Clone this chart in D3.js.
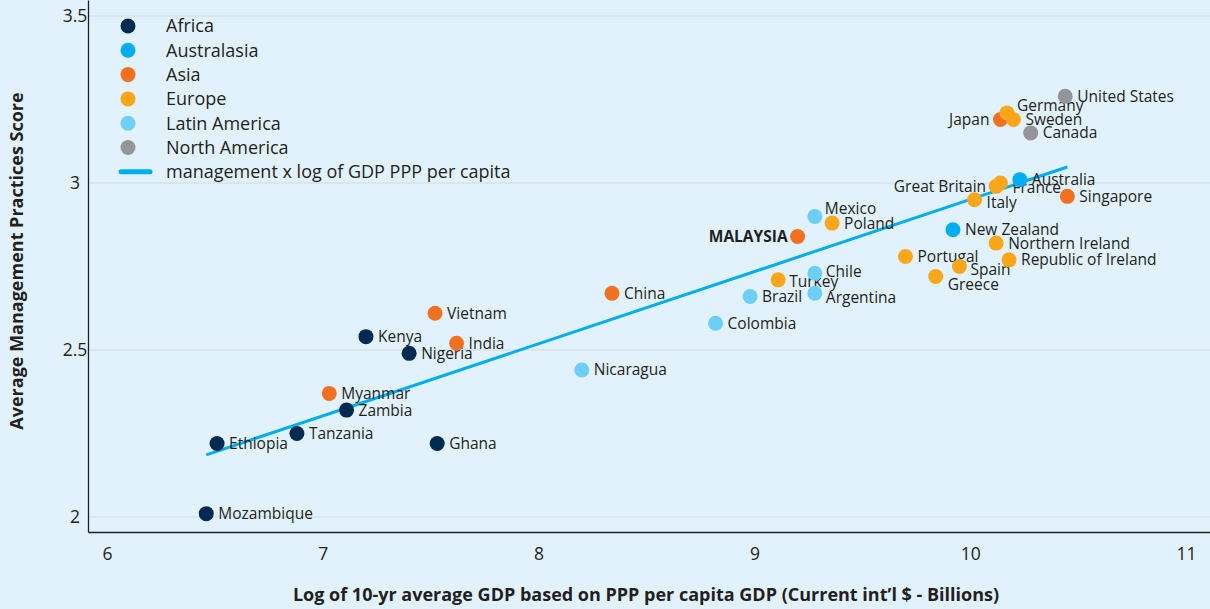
<!DOCTYPE html>
<html>
<head>
<meta charset="utf-8">
<script src="https://cdn.jsdelivr.net/npm/d3@7"></script>
<style>
  html, body { margin: 0; padding: 0; background: #e1f2fc; }
  svg { display: block; font-family: "Open Sans", Lato, sans-serif; }
</style>
</head>
<body>
<svg id="chart" width="1210" height="609"></svg>
<script>
// region categories and their colours
var regionNames = ["Africa", "Australasia", "Asia", "Europe", "Latin America", "North America"];
var regionColors = ["#002a4f", "#00aeef", "#f37021", "#faa61a", "#6dcff6", "#939598"];

// one entry per country
var countries = ["Mozambique","Ethiopia","Tanzania","Zambia","Myanmar","Kenya","Nigeria","Ghana",
  "Vietnam","India","Nicaragua","China","Colombia","Brazil","Turkey","Chile","Argentina","Mexico",
  "Poland","MALAYSIA","Portugal","Greece","Spain","New Zealand","Northern Ireland","Republic of Ireland",
  "Italy","Great Britain","France","Australia","Singapore","Japan","Germany","Sweden","Canada","United States"];
var countryRegion = ["Africa","Africa","Africa","Africa","Asia","Africa","Africa","Africa",
  "Asia","Asia","Latin America","Asia","Latin America","Latin America","Europe","Latin America","Latin America","Latin America",
  "Europe","Asia","Europe","Europe","Europe","Australasia","Europe","Europe",
  "Europe","Europe","Europe","Australasia","Asia","Asia","Europe","Europe","North America","North America"];
var logGdp = [6.46,6.51,6.88,7.11,7.03,7.20,7.40,7.53,
  7.52,7.62,8.20,8.34,8.82,8.98,9.11,9.28,9.28,9.28,
  9.36,9.20,9.70,9.84,9.95,9.92,10.12,10.18,
  10.02,10.12,10.14,10.23,10.45,10.14,10.17,10.20,10.28,10.44];
var mgmtScore = [2.01,2.22,2.25,2.32,2.37,2.54,2.49,2.22,
  2.61,2.52,2.44,2.67,2.58,2.66,2.71,2.73,2.67,2.90,
  2.88,2.84,2.78,2.72,2.75,2.86,2.82,2.77,
  2.95,2.99,3.00,3.01,2.96,3.19,3.21,3.19,3.15,3.26];

// fitted line
var trendX = [6.46, 10.45];
var trendY = [2.186, 3.048];

var xTicks = [6, 7, 8, 9, 10, 11];
var yTicks = [2, 2.5, 3, 3.5];

// label placement tweaks (dx, dy, anchor)
var labelPos = {
  "Japan": [-11, 0, "end"], "Great Britain": [-10, 0, "end"], "MALAYSIA": [-10, 0, "end"],
  "Germany": [10, -7], "France": [12, 5], "Mexico": [10, -8], "Chile": [11, -2],
  "Turkey": [11, 2], "Argentina": [11, 4], "Italy": [12, 3], "Spain": [11, 3], "Greece": [12, 8]
};

var svg = d3.select("#chart");
var plotLeft = 88, plotRight = 1210, plotTop = 0, plotBottom = 532;

var x = d3.scaleLinear().domain([5.912, 11.111]).range([plotLeft, plotRight]);
var y = d3.scaleLinear().domain([1.955, 3.548]).range([plotBottom, plotTop]);
var color = d3.scaleOrdinal().domain(regionNames).range(regionColors);

// gridlines
svg.append("g").selectAll("line")
  .data(yTicks).enter().append("line")
  .attr("x1", plotLeft).attr("x2", plotRight)
  .attr("y1", d => y(d)).attr("y2", d => y(d))
  .attr("stroke", "#d3dadf").attr("stroke-width", 1);

// axes
var xAxis = svg.append("g")
  .attr("transform", "translate(0," + plotBottom + ")")
  .call(d3.axisBottom(x).tickValues(xTicks).tickSize(0).tickPadding(16).tickFormat(d3.format("d")));
var yAxis = svg.append("g")
  .attr("transform", "translate(" + plotLeft + ",0)")
  .call(d3.axisLeft(y).tickValues(yTicks).tickSize(0).tickPadding(6).tickFormat(d => d));
[xAxis, yAxis].forEach(function(a) {
  a.select(".domain").attr("stroke", "#231f20").attr("stroke-width", 1.3);
  a.selectAll("text").attr("font-size", 17.5).attr("fill", "#231f20").attr("font-family", "'Open Sans', sans-serif");
});
yAxis.selectAll("text").attr("text-anchor", "middle").attr("x", -13);

// axis titles
svg.append("text")
  .attr("x", 646).attr("y", 601)
  .attr("text-anchor", "middle")
  .attr("font-size", 18).attr("font-weight", "bold").attr("fill", "#231f20")
  .text("Log of 10-yr average GDP based on PPP per capita GDP (Current int\u2019l $ - Billions)");
svg.append("text")
  .attr("transform", "translate(23,261) rotate(-90)")
  .attr("text-anchor", "middle")
  .attr("font-size", 18).attr("font-weight", "bold").attr("fill", "#231f20")
  .text("Average Management Practices Score");

// trend line
svg.append("line")
  .attr("x1", x(trendX[0])).attr("y1", y(trendY[0]))
  .attr("x2", x(trendX[1])).attr("y2", y(trendY[1]))
  .attr("stroke", "#00aeef").attr("stroke-width", 3);

// points
var pts = countries.map((c, i) => ({name: c, region: countryRegion[i], gx: logGdp[i], ms: mgmtScore[i]}));

var dots = svg.append("g").selectAll("g")
  .data(pts).enter().append("g")
  .attr("transform", d => "translate(" + x(d.gx) + "," + y(d.ms) + ")");

dots.append("circle")
  .attr("r", 7.5)
  .attr("fill", d => color(d.region));

dots.append("text")
  .attr("x", d => (labelPos[d.name] || [12])[0])
  .attr("y", d => (labelPos[d.name] || [12, 0])[1])
  .attr("dy", "0.35em")
  .attr("text-anchor", d => (labelPos[d.name] || [])[2] || "start")
  .attr("font-size", 15.5)
  .attr("font-weight", d => d.name == "MALAYSIA" ? "bold" : "normal")
  .attr("fill", "#231f20")
  .text(d => d.name);

// legend
var legend = svg.append("g").attr("transform", "translate(128,26)");
var rows = legend.selectAll("g")
  .data(regionNames).enter().append("g")
  .attr("transform", (d, i) => "translate(0," + i * 24.3 + ")");
rows.append("circle").attr("r", 7.5).attr("fill", d => color(d));
rows.append("text")
  .attr("x", 38).attr("dy", "0.35em")
  .attr("font-size", 18).attr("fill", "#231f20")
  .text(d => d);

var lineRow = legend.append("g").attr("transform", "translate(0," + 6 * 24.3 + ")");
lineRow.append("line")
  .attr("x1", -7).attr("x2", 22)
  .attr("stroke", "#00aeef").attr("stroke-width", 5).attr("stroke-linecap", "round");
lineRow.append("text")
  .attr("x", 38).attr("dy", "0.35em")
  .attr("font-size", 18).attr("fill", "#231f20")
  .text("management x log of GDP PPP per capita");
</script>
</body>
</html>
